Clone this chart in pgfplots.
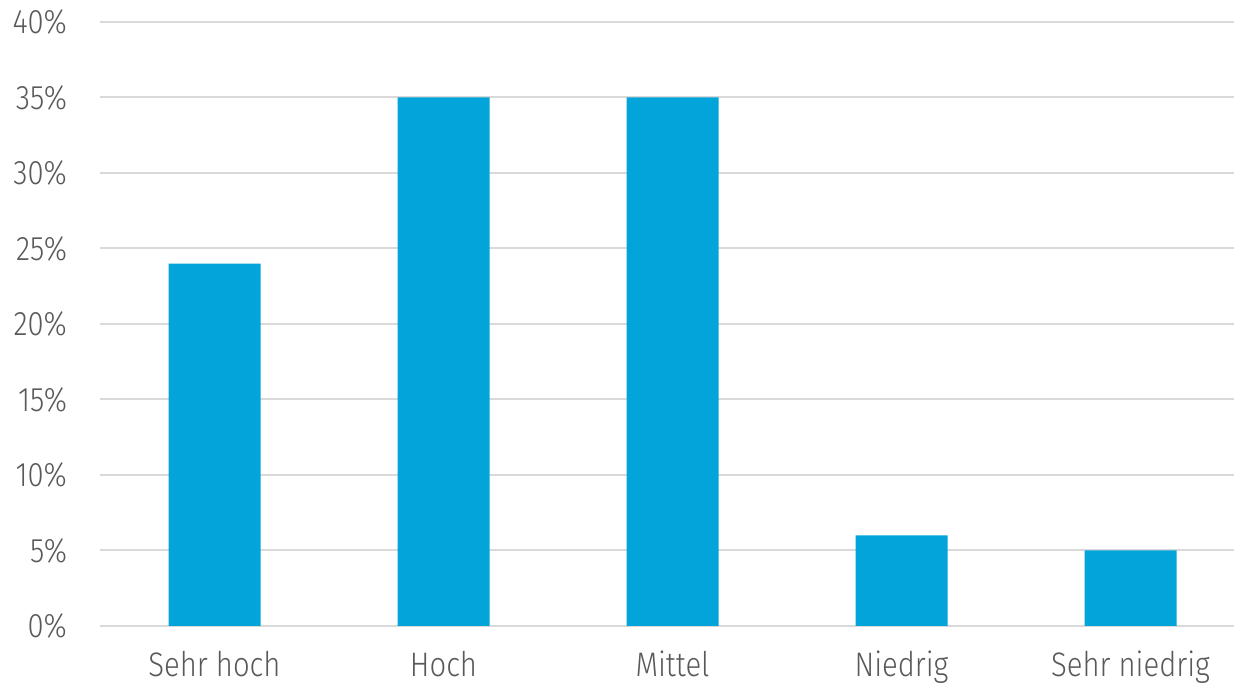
\documentclass[border=0pt]{standalone}
\usepackage{pgfplots}
\pgfplotsset{compat=1.18}
\usepackage{fontspec}
\setmainfont{Fira Sans Light}[FakeStretch=0.86]
\definecolor{barblue}{RGB}{2,164,218}
\definecolor{gridgray}{RGB}{217,217,217}
\definecolor{txtgray}{RGB}{89,89,89}
\begin{document}
\begin{tikzpicture}
\path[use as bounding box] (-50pt,-28.5pt) rectangle (567pt,313pt);
\begin{axis}[
  scale only axis,
  width=572.5pt, height=302pt,
  at={(0,0)}, anchor=south west,
  ybar, bar width=46pt,
  xmin=-0.5, xmax=4.5,
  ymin=0, ymax=40,
  axis line style={draw=none},
  xtick={0,1,2,3,4},
  xticklabels={Sehr hoch,Hoch,Mittel,Niedrig,Sehr niedrig},
  ytick={0,5,10,15,20,25,30,35,40},
  yticklabels={0\%,5\%,10\%,15\%,20\%,25\%,30\%,35\%,40\%},
  major tick length=0pt,
  ymajorgrids, grid style={gridgray, line width=1pt},
  tick label style={font=\fontsize{17}{19}\selectfont, text=txtgray},
  yticklabel style={anchor=east, xshift=-13pt},
  xticklabel style={anchor=north, yshift=-9pt},
  clip=false,
]
\addplot[fill=barblue, draw=none] coordinates {(0,24) (1,35) (2,35) (3,6) (4,5)};
\end{axis}
\end{tikzpicture}
\end{document}
